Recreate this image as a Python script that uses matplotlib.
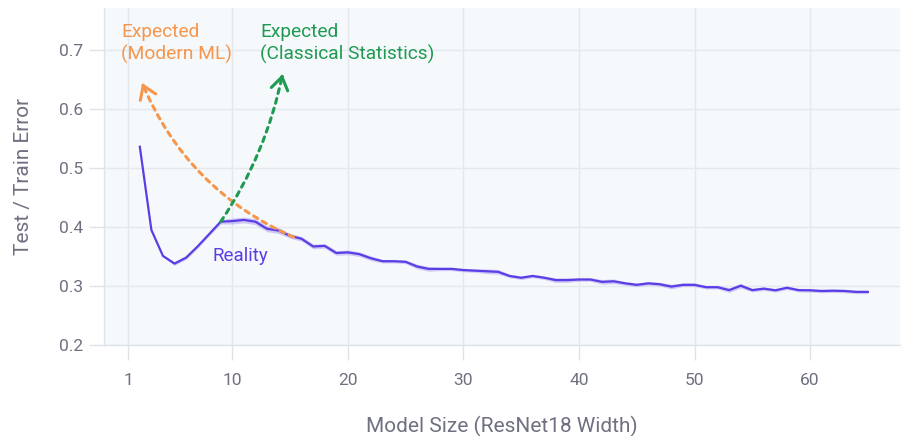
import matplotlib
matplotlib.use("Agg")
import matplotlib.pyplot as plt
from matplotlib.patches import FancyArrowPatch
import numpy as np

plt.rcParams['font.family'] = ['Roboto', 'DejaVu Sans']

# ResNet18 width vs. error
width = list(range(2, 66))
error = [0.536, 0.395, 0.351, 0.338, 0.348, 0.367, 0.388, 0.409, 0.410, 0.412,
         0.409, 0.397, 0.394, 0.385, 0.380, 0.367, 0.368, 0.356, 0.357, 0.354,
         0.347, 0.342, 0.342, 0.341, 0.333, 0.329, 0.329, 0.329, 0.327, 0.326,
         0.325, 0.324, 0.317, 0.314, 0.317, 0.314, 0.310, 0.310, 0.311, 0.311,
         0.307, 0.308, 0.3045, 0.302, 0.3045, 0.303, 0.299, 0.302, 0.302, 0.298,
         0.298, 0.293, 0.3005, 0.293, 0.2955, 0.2927, 0.297, 0.293, 0.2927, 0.2915,
         0.292, 0.2915, 0.290, 0.290]
spread = [0.001, 0.001, 0.002, 0.003, 0.003, 0.003, 0.003, 0.004, 0.005, 0.005,
          0.005, 0.005, 0.005, 0.004, 0.004, 0.004, 0.004, 0.004, 0.004, 0.004,
          0.004, 0.003, 0.003, 0.003, 0.004, 0.004, 0.003, 0.003, 0.003, 0.003,
          0.004, 0.004, 0.003, 0.003, 0.003, 0.003, 0.004, 0.004, 0.003, 0.003,
          0.004, 0.004, 0.003, 0.003, 0.003, 0.003, 0.004, 0.003, 0.003, 0.003,
          0.003, 0.004, 0.004, 0.003, 0.003, 0.003, 0.003, 0.003, 0.003, 0.003,
          0.003, 0.003, 0.003, 0.003]

xticks = [1, 10, 20, 30, 40, 50, 60]
yticks = [0.2, 0.3, 0.4, 0.5, 0.6, 0.7]

# expectation arrows: (start, end) in data coordinates
modern_start, modern_end = (15.3, 0.383), (2.2, 0.644)
classical_start, classical_end = (9.0, 0.409), (14.35, 0.659)

PURPLE = '#5b3de6'
ORANGE = '#f5964c'
GREEN = '#1f9a52'
GREY = '#6f7080'
LIGHT = '#dfe3e8'

fig = plt.figure(figsize=(9.02, 4.36), dpi=100)
ax = fig.add_axes([0.1153, 0.2087, 0.8827, 0.7723])
ax.set_facecolor('#f6f9fb')

ax.set_xlim(-1.1, 67.8)
ax.set_ylim(0.2, 0.7707)

ax.set_xticks(xticks)
ax.set_yticks(yticks)
ax.set_yticklabels([f'{v:.1f}' for v in yticks])
ax.grid(True, color='#e5e9ee', linewidth=1.0, zorder=0)
ax.set_axisbelow(True)
for side in ('top', 'right'):
    ax.spines[side].set_visible(False)
for side in ('left', 'bottom'):
    ax.spines[side].set_color(LIGHT)
    ax.spines[side].set_linewidth(1.0)
ax.tick_params(axis='both', colors=LIGHT, labelcolor=GREY, labelsize=12.5,
               length=11, width=1.0)
ax.tick_params(axis='x', pad=9)
ax.tick_params(axis='y', pad=4)

ax.set_xlabel('Model Size (ResNet18 Width)', fontsize=15, color=GREY, labelpad=20)
ax.set_ylabel('Test / Train Error', fontsize=15, color=GREY, labelpad=19)

x = np.array(width)
y = np.array(error)
s = np.array(spread)
ax.fill_between(x, y - s, y + s, color=PURPLE, alpha=0.25, linewidth=0, zorder=2)
ax.plot(x, y, color=PURPLE, linewidth=1.6, zorder=3)

fig.canvas.draw()


def curved_arrow(start, end, rad, color):
    style = f'arc3,rad={rad}'
    shaft = FancyArrowPatch(start, end, connectionstyle=style, arrowstyle='-',
                            color=color, linewidth=2.2, linestyle=(0, (1.6, 1.7)),
                            shrinkA=0, shrinkB=0, zorder=4)
    ax.add_patch(shaft)
    p0 = ax.transData.transform(start)
    p1 = ax.transData.transform(end)
    dist_pt = np.hypot(*(p1 - p0)) * 72.0 / fig.dpi
    head = FancyArrowPatch(start, end, connectionstyle=style,
                           arrowstyle='->,head_length=0.45,head_width=0.3',
                           mutation_scale=20, color=color, linewidth=2.2,
                           shrinkA=dist_pt - 2, shrinkB=0, zorder=4)
    ax.add_patch(head)


curved_arrow(modern_start, modern_end, -0.2, ORANGE)
curved_arrow(classical_start, classical_end, 0.1, GREEN)

ax.text(0.37, 0.745, 'Expected\n(Modern ML)', color=ORANGE, fontsize=13.8,
        ha='left', va='top', linespacing=1.2)
ax.text(12.4, 0.745, 'Expected\n(Classical Statistics)', color=GREEN, fontsize=13.8,
        ha='left', va='top', linespacing=1.2)
ax.text(8.3, 0.351, 'Reality', color=PURPLE, fontsize=13.5, ha='left', va='center')

fig.savefig('out.png', dpi=100)
